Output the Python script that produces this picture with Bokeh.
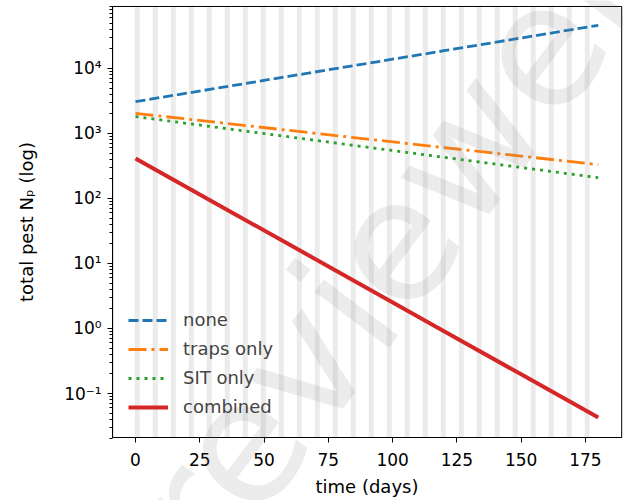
from bokeh.plotting import figure
from bokeh.models import Range1d, FixedTicker, Label, BoxAnnotation
from bokeh.embed import file_html
from bokeh.resources import INLINE

# ---- data ----
days = [0, 30, 60, 90, 120, 150, 180]
none_vals = [3090, 4850, 7620, 11950, 18760, 29450, 46200]
traps_vals = [2040, 1510, 1113, 822, 607, 449, 331]
sit_vals = [1820, 1268, 885, 617, 430, 300, 209]
combined_vals = [412, 89.3, 19.4, 4.19, 0.908, 0.197, 0.0427]

release_days = [0, 7, 14, 21, 28, 35, 42, 49, 56, 63, 70, 77, 84, 91,
                98, 105, 112, 119, 126, 133, 140, 147, 154, 161, 168, 175]

x_ticks = [0, 25, 50, 75, 100, 125, 150, 175]
y_ticks = [0.1, 1, 10, 100, 1000, 10000]
y_tick_labels = ["10\u207b\u00b9", "10\u2070", "10\u00b9", "10\u00b2", "10\u00b3", "10\u2074"]

FONT = "DejaVu Sans"

# axes box limits (data units)
X_LO, X_HI = -8.9, 189.1
Y_LO, Y_HI = 0.02104, 89950

# The frame covers the whole canvas so the watermark is not clipped;
# the axes are drawn at fixed locations on the box edges.
p = figure(frame_width=623, frame_height=500,
           x_range=Range1d(-52.51, 189.81), y_range=Range1d(0.002259, 111170),
           y_axis_type="log", output_backend="svg", toolbar_location=None,
           min_border=0, min_border_left=0, min_border_right=0,
           min_border_top=0, min_border_bottom=0)

p.background_fill_color = "white"
p.border_fill_color = "white"
p.outline_line_color = None
p.xgrid.visible = False
p.ygrid.visible = False

# release-day bands
p.vbar(x=[d + 0.7 for d in release_days], width=1.95, bottom=Y_LO, top=Y_HI,
       fill_color="#808080", fill_alpha=0.16, line_color=None)

p.line(days, none_vals, line_color="#1f77b4", line_width=2.8, line_dash="10 4",
       legend_label="none")
p.line(days, traps_vals, line_color="#ff7f0e", line_width=2.8, line_dash="18 5 3 5",
       legend_label="traps only")
p.line(days, sit_vals, line_color="#2ca02c", line_width=2.8, line_dash="3 5",
       legend_label="SIT only")
p.line(days, combined_vals, line_color="#d62728", line_width=4,
       legend_label="combined")

# axes box
p.add_layout(BoxAnnotation(left=X_LO, right=X_HI, bottom=Y_LO, top=Y_HI,
                           fill_alpha=0, line_color="black", line_width=1,
                           line_alpha=1))

# watermark
p.add_layout(Label(x=390, y=253, x_units="screen", y_units="screen", text="reviewer",
                   angle=53, angle_units="deg", text_align="center", text_baseline="middle",
                   text_font=FONT, text_font_size="170px", text_color="#808080",
                   text_alpha=0.15))

# axes
p.xaxis.ticker = FixedTicker(ticks=x_ticks)
minor = [m * 10.0 ** e for e in range(-2, 5) for m in range(2, 10)]
p.yaxis.ticker = FixedTicker(ticks=y_ticks, minor_ticks=minor)
p.yaxis.major_label_overrides = {t: lab for t, lab in zip(y_ticks, y_tick_labels)}
p.xaxis.fixed_location = Y_LO
p.yaxis.fixed_location = X_LO
p.xaxis.bounds = (X_LO, X_HI)
p.yaxis.bounds = (Y_LO, Y_HI)

for ax in (p.xaxis, p.yaxis):
    ax.axis_line_color = "black"
    ax.axis_line_width = 1
    ax.major_tick_line_color = "black"
    ax.major_tick_in = 0
    ax.major_tick_out = 5
    ax.minor_tick_in = 0
    ax.minor_tick_out = 3
    ax.major_label_text_font = FONT
    ax.major_label_text_font_size = "17px"
    ax.major_label_text_color = "black"
    ax.axis_label_text_font = FONT
    ax.axis_label_text_font_size = "18px"
    ax.axis_label_text_font_style = "normal"
    ax.axis_label_text_color = "black"

p.xaxis.minor_tick_line_color = None
p.yaxis.minor_tick_line_color = "black"

p.xaxis.axis_label = "time (days)"
p.yaxis.axis_label = "total pest N\u209a (log)"
p.xaxis.major_label_standoff = 10
p.xaxis.axis_label_standoff = 7
p.yaxis.major_label_standoff = 6
p.yaxis.axis_label_standoff = 24

leg = p.legend[0]
leg.location = (123, 78)
leg.border_line_alpha = 0
leg.background_fill_alpha = 0
leg.padding = 5
leg.margin = 0
leg.spacing = 8
leg.glyph_width = 40
leg.glyph_height = 20
leg.label_standoff = 15
leg.label_text_font = FONT
leg.label_text_font_size = "18px"
leg.label_height = 20

open("out.html", "w").write(file_html(p, INLINE))
